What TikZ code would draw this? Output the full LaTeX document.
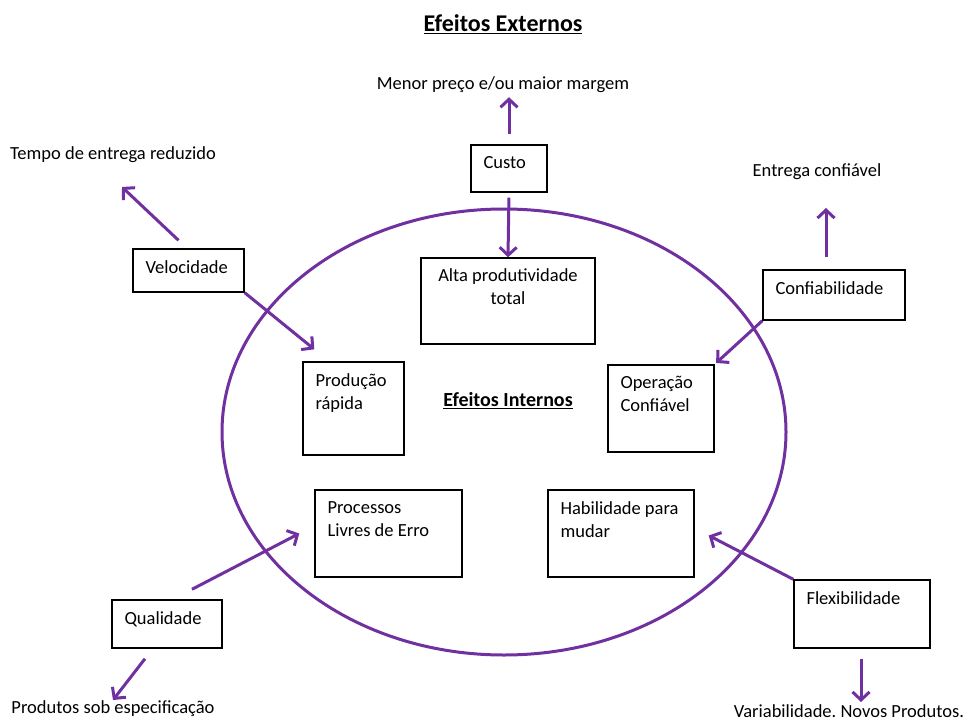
\documentclass[tikz,border=0pt]{standalone}
\usepackage{fontspec}
\setmainfont{Carlito}
\usetikzlibrary{arrows.meta,positioning,shadows}
\definecolor{roxo}{RGB}{112,48,160}
\frenchspacing
\tikzset{
    caixa/.style={draw, line width=1.4pt, fill=white, inner sep=0pt,
        drop shadow={shadow xshift=1.2pt, shadow yshift=-1.2pt, opacity=0.35}},
    txt/.style={anchor=north west, inner sep=0pt, xshift=13pt, yshift=-12pt, align=left},
    txtc/.style={anchor=north, inner sep=0pt, yshift=-11pt, align=center},
    seta/.style={draw=roxo, line width=3pt, -{Straight Barb[length=8pt,width=17pt]}},
    rotulo/.style={inner sep=0pt}
}
\begin{document}
\begin{tikzpicture}[x=1pt, y=-1pt, font=\fontsize{18.5}{23}\selectfont]
                        \useasboundingbox (0,0) rectangle (963,722);
                        % circulo dos efeitos internos
                        \draw [roxo, line width=3pt] (504,432) ellipse [x radius=282pt, y radius=223pt];
                        \node [rotulo, font=\bfseries\fontsize{24}{28}\selectfont] (titulo) at (503,24) {\underline{Efeitos Externos}};
                        \node [rotulo, font=\bfseries\fontsize{20}{24}\selectfont] (internos) at (508,401) {\underline{Efeitos Internos}};
                        % objetivos
                        \node [caixa, minimum width=76pt, minimum height=47pt, label={[txt]north west:Custo}] (custo) at (509,168.5) {};
                        \node [caixa, minimum width=111pt, minimum height=43pt, label={[txt]north west:Velocidade}] (velocidade) at (188.5,270.5) {};
                        \node [caixa, minimum width=142pt, minimum height=50pt, label={[txt]north west:Confiabilidade}] (confiab) at (834,295) {};
                        \node [caixa, minimum width=110pt, minimum height=48pt, label={[txt]north west:Qualidade}] (qualidade) at (167,624) {};
                        \node [caixa, minimum width=136pt, minimum height=68pt, label={[txt]north west:Flexibilidade}] (flex) at (862,614) {};
                        % efeitos internos
                        \node [caixa, minimum width=174pt, minimum height=86pt, label={[txtc]north:Alta produtividade\\total}] (alta) at (508,301) {};
                        \node [caixa, minimum width=101pt, minimum height=93pt, label={[txt]north west:Produção\\rápida}] (producao) at (353.5,408.5) {};
                        \node [caixa, minimum width=106pt, minimum height=87pt, label={[txt]north west:Operação\\Confiável}] (operacao) at (661,408.5) {};
                        \node [caixa, minimum width=147pt, minimum height=87pt, label={[txt]north west:Processos\\Livres de Erro}] (processos) at (388.5,533.5) {};
                        \node [caixa, minimum width=146pt, minimum height=87pt, label={[txt]north west:Habilidade para\\mudar}] (habilidade) at (621,533.5) {};
                        % efeitos externos
                        \node [rotulo] (menor) at (503,85) {Menor preço e/ou maior margem};
                        \node [rotulo] (tempo) at (113,155) {Tempo de entrega reduzido};
                        \node [rotulo] (entrega) at (817,172) {Entrega confiável};
                        \node [rotulo] (produtos) at (113,709) {Produtos sob especificação};
                        \node [rotulo] (variab) at (849,711) {Variabilidade. Novos Produtos.};
                        \coordinate (ptempo) at (122,187);
                        \coordinate (pentrega) at (826,208);
                        \coordinate (pprodutos) at (113,700);
                        \coordinate (pvariab) at (861,702);
                        % setas
                        \draw [seta, shorten <=10pt, shorten >=4pt] (custo.north) -- (custo.north |- menor.south);
                        \draw [seta, shorten <=5pt] (custo.south) -- (alta.north);
                        \draw [seta] ([shift={(-10,-8)}]velocidade.north) -- (ptempo);
                        \draw [seta] (velocidade.south east) -- ([shift={(12,-12)}]producao.north west);
                        \draw [seta, shorten >=2pt] (confiab.south west) -- (operacao.north east);
                        \draw [seta] ([shift={(-8,-12)}]confiab.north) -- (pentrega);
                        \draw [seta] ([shift={(25,-10)}]qualidade.north) -- ([shift={(-15,0)}]processos.west);
                        \draw [seta] ([shift={(-22,10)}]qualidade.south) -- (pprodutos);
                        \draw [seta] (flex.north west) -- ([shift={(14,2)}]habilidade.east);
                        \draw [seta] ([shift={(-1,10)}]flex.south) -- (pvariab);
\end{tikzpicture}
\end{document}
